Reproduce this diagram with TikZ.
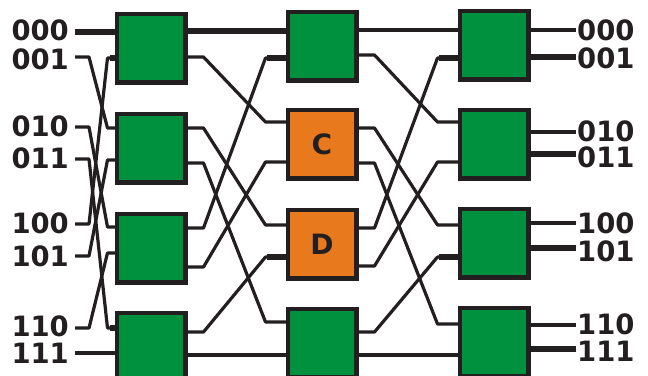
\documentclass[tikz,border=0pt]{standalone}
\usepackage{fontspec}
\newfontfamily\lblfont{DejaVu Sans}
\definecolor{swgreen}{HTML}{00913F}
\definecolor{sworange}{HTML}{E8791C}
\definecolor{edge}{HTML}{231F20}
\begin{document}
\begin{tikzpicture}[x=1pt,y=-1pt,
  wire/.style={draw=edge,line width=3.2pt,line join=round},
  fat/.style={draw=edge,line width=5.4pt},
  sw/.style={draw=edge,line width=3pt,fill=swgreen,inner sep=0pt,
    minimum width=67pt,minimum height=67pt,font=\lblfont\bfseries\fontsize{28}{28}\selectfont,text=edge},
  swo/.style={sw,fill=sworange},
  lbl/.style={font=\lblfont\bfseries\fontsize{28}{28}\selectfont,text=edge,inner sep=0pt}]
\useasboundingbox (0,0) rectangle (648,375);
\clip (0,0) rectangle (648,375);
% switches
\node[sw] (a1) at (151,48) {};
\node[sw] (a2) at (151,148) {};
\node[sw] (a3) at (151,248) {};
\node[sw] (a4) at (151,347) {};
\node[sw] (b1) at (322,46) {};
\node[swo] (b2) at (322,144) {C};
\node[swo] (b3) at (322,244) {D};
\node[sw] (b4) at (322,343) {};
\node[sw] (c1) at (494,45) {};
\node[sw] (c2) at (494,144) {};
\node[sw] (c3) at (494,243) {};
\node[sw] (c4) at (494,342) {};
% input labels
\foreach \t/\y/\n in {000/30/i0,001/59/i1,010/126/i2,011/158/i3,100/223/i4,101/256/i5,110/326/i6,111/353/i7}{
  \node[lbl,anchor=east] (l\n) at (69,\y) {\scalebox{0.98}[1]{\t}};
}
\foreach \t/\y/\n in {000/30/o0,001/58/o1,010/131/o2,011/157/o3,100/223/o4,101/251/o5,110/324/o6,111/351/o7}{
  \node[lbl,anchor=west] (l\n) at (577,\y) {\scalebox{0.98}[1]{\t}};
}
% input line starts
\foreach \n/\y in {0/32,1/57,2/127,3/159,4/224,5/256,6/328,7/353}{
  \coordinate (s\n) at (75,\y);
}
% ports
\foreach \n/\y in {0/32,1/58,2/128,3/160,4/227,5/253,6/328,7/353}{
  \coordinate (ai\n) at (117.5,\y);
}
\foreach \n/\y in {0/31,1/57,2/128,3/163,4/228,5/267,6/332,7/355}{
  \coordinate (ao\n) at (184.5,\y);
}
\foreach \n/\y in {0/31,1/58,2/122,3/162,4/225,5/257,6/322,7/355}{
  \coordinate (bi\n) at (288.5,\y);
}
\foreach \n/\y in {0/30,1/55,2/128,3/163,4/228,5/266,6/332,7/355}{
  \coordinate (bo\n) at (355.5,\y);
}
\foreach \n/\y in {0/30,1/58,2/122,3/162,4/225,5/257,6/324,7/355}{
  \coordinate (ci\n) at (460.5,\y);
}
\foreach \n/\y in {0/30,1/57,2/132,3/154,4/223,5/248,6/325,7/349}{
  \coordinate (co\n) at (527.5,\y);
}
% stage 0: inputs -> column a (perfect shuffle)
\draw[fat] (s0) -- (ai0);
\draw[wire] (s7) -- (ai7);
\foreach \s/\t in {1/2,2/4,3/6,4/1,5/3,6/5}{
  \draw[wire] (s\s) -- ++(14,0) -- ([xshift=-10pt]ai\t) -- (ai\t);
}
\draw[fat] ([xshift=-8pt]ai1) -- (ai1);
\draw[fat] ([xshift=-8pt]ai6) -- (ai6);
% stage 1: column a -> column b
\draw[fat] (ao0) -- (bi0);
\draw[wire] (ao7) -- (bi7);
\foreach \s/\t in {1/2,2/4,3/6,4/1,5/3,6/5}{
  \draw[wire] (ao\s) -- ++(19,0) -- ([xshift=-23pt]bi\t) -- (bi\t);
}
\draw[fat] ([xshift=-22pt]bi1) -- (bi1);
\draw[fat] ([xshift=-22pt]bi5) -- (bi5);
% stage 2: column b -> column c
\draw[wire] (bo0) -- (ci0);
\draw[wire] (bo7) -- (ci7);
\foreach \s/\t in {1/2,2/4,3/6,4/1,5/3,6/5}{
  \draw[wire] (bo\s) -- ++(19,0) -- ([xshift=-23pt]ci\t) -- (ci\t);
}
\draw[fat] ([xshift=-22pt]ci1) -- (ci1);
\draw[fat] ([xshift=-22pt]ci5) -- (ci5);
% outputs
\foreach \n in {0,2,4,6}{
  \draw[wire] (co\n) -- ([xshift=-1pt]lo\n.west |- co\n);
}
\foreach \n in {1,3,5,7}{
  \draw[fat] (co\n) -- ([xshift=-1pt]lo\n.west |- co\n);
}
% redraw switch borders on top
\foreach \b in {a1,a2,a3,a4,b1,b2,b3,b4,c1,c2,c3,c4}{
  \draw[edge,line width=3pt] (\b.south west) rectangle (\b.north east);
}
\end{tikzpicture}
\end{document}
